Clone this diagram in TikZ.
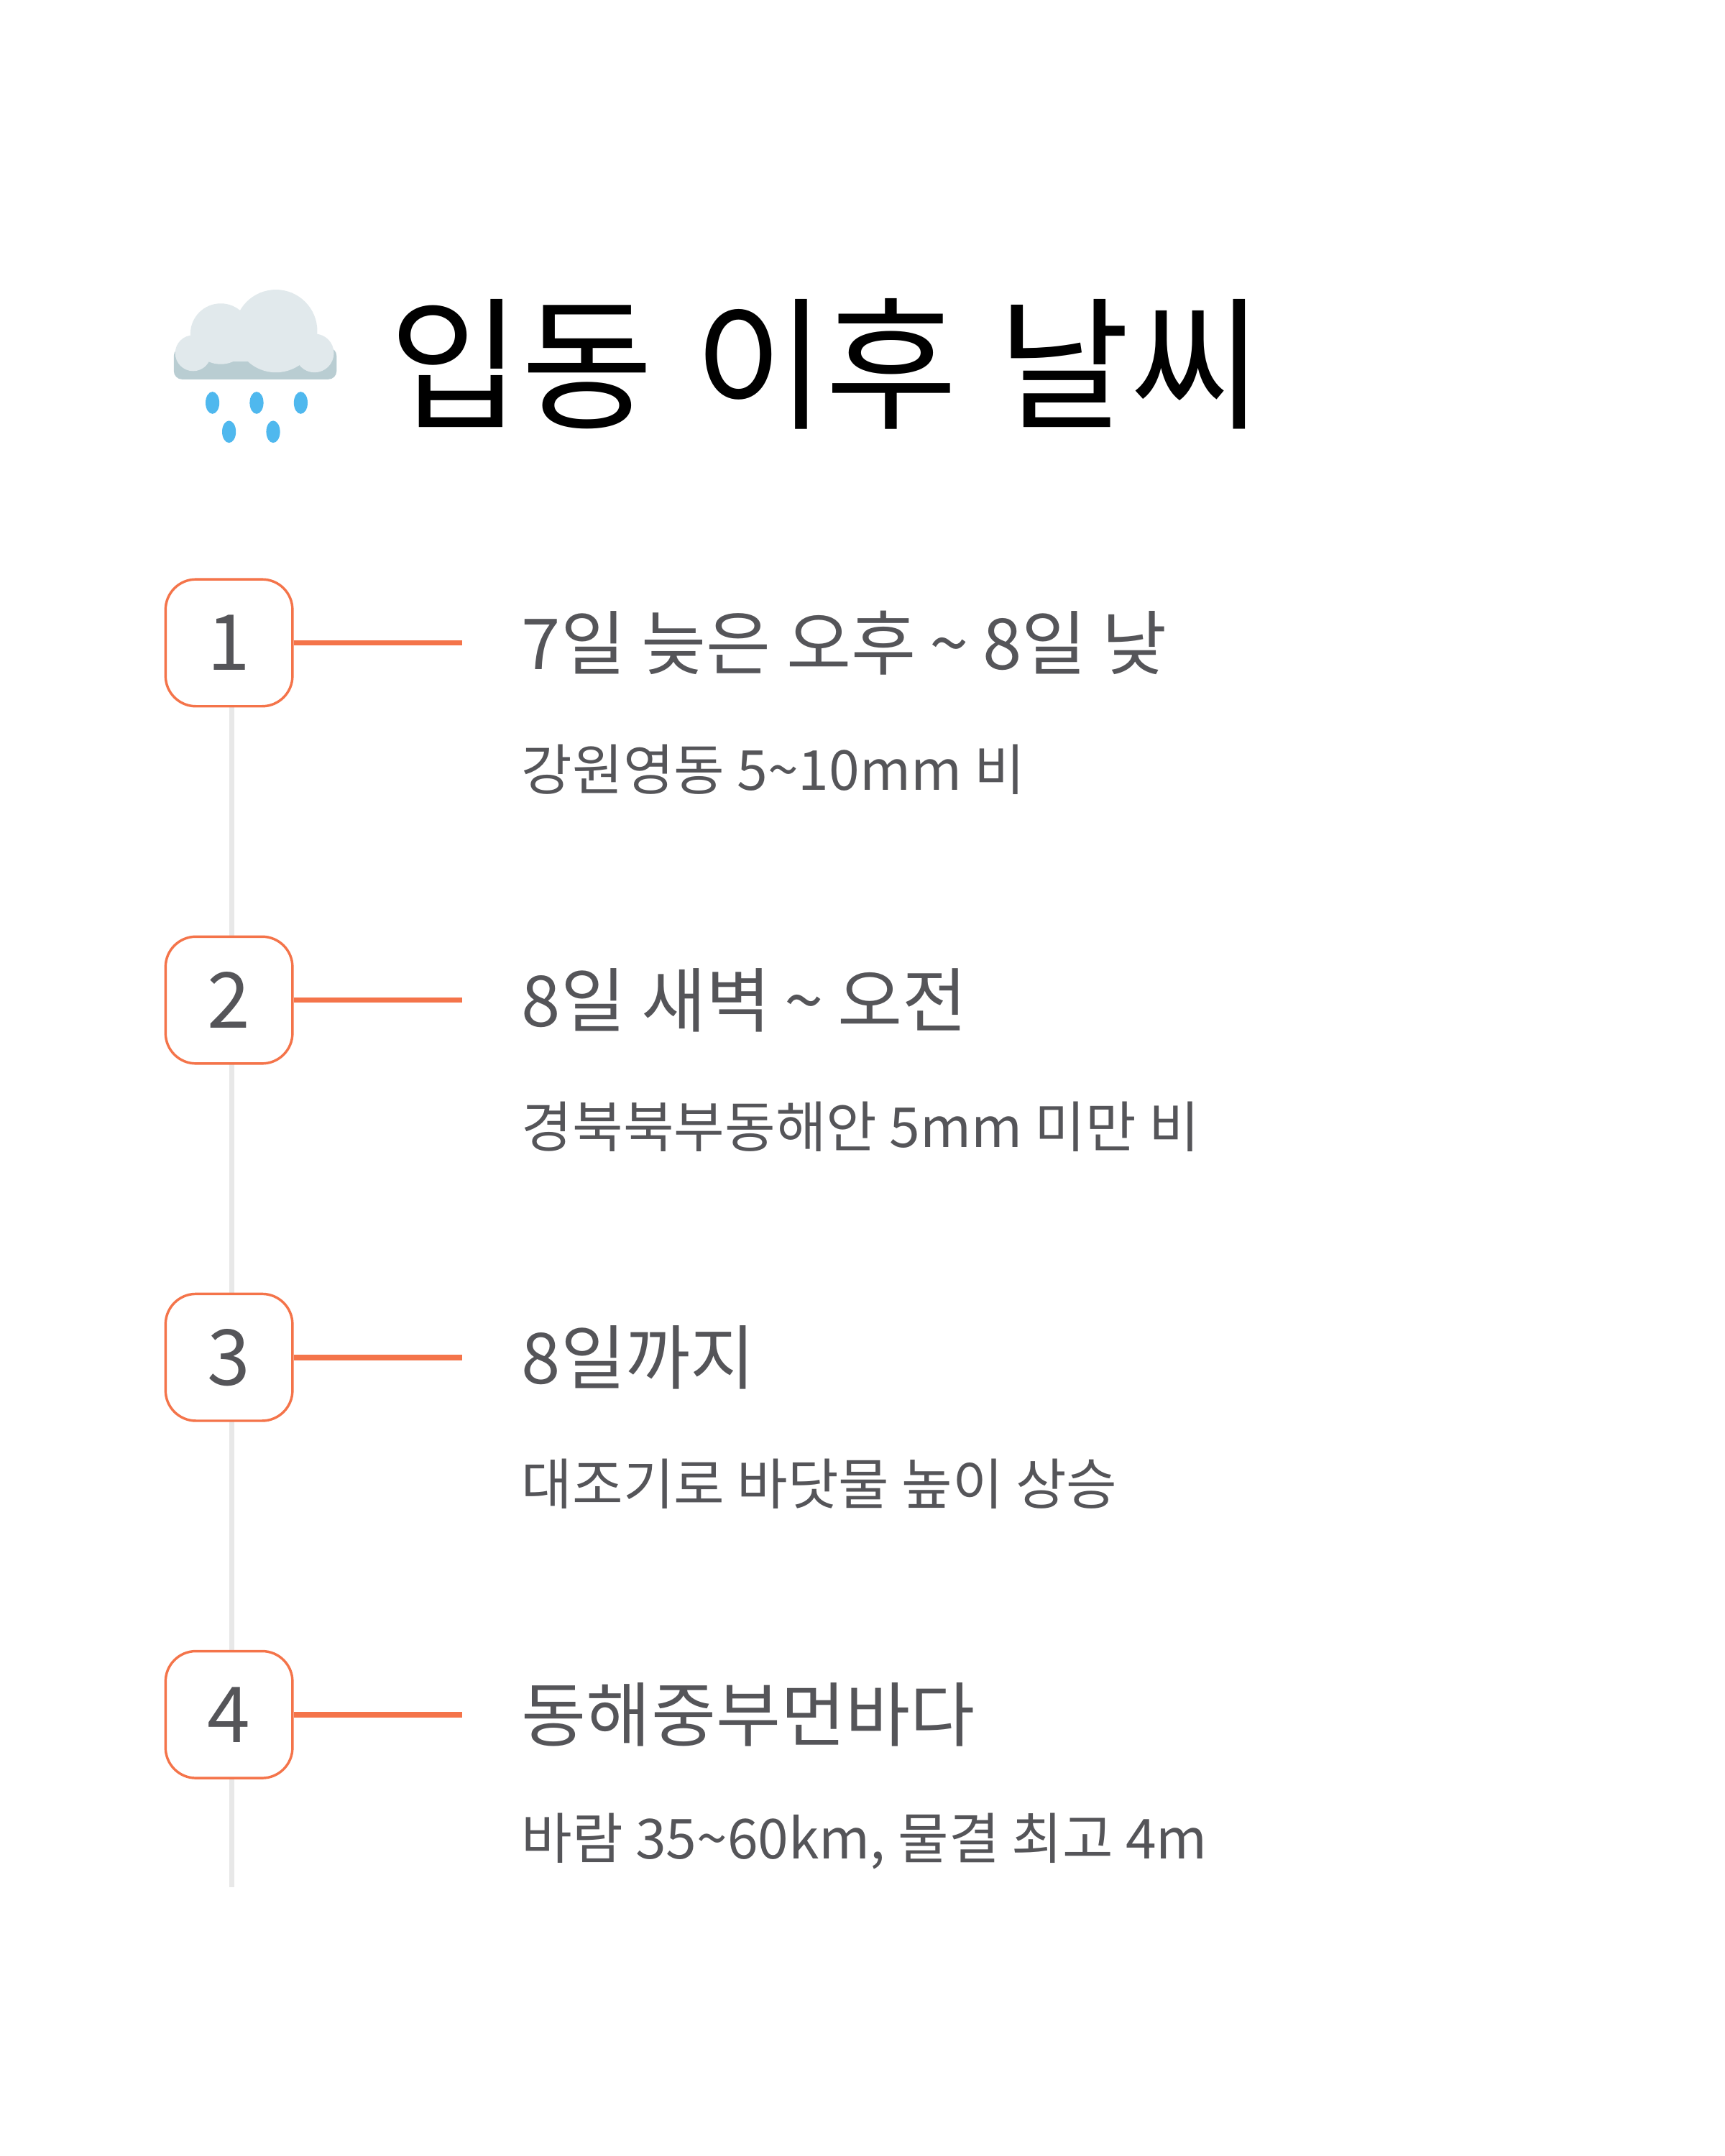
\documentclass[tikz,border=0pt]{standalone}
\usepackage{fontspec}
\setmainfont{Noto Sans CJK KR}
\definecolor{acc}{HTML}{F4744A}
\definecolor{txt}{HTML}{555559}
\definecolor{rail}{HTML}{E8E8E8}
\definecolor{cl}{HTML}{E1E9EC}
\definecolor{cld}{HTML}{B9CDD2}
\definecolor{drop}{HTML}{4FB8EE}
\newcommand{\tl}{\hspace{10pt}\textasciitilde\hspace{10pt}}
\tikzset{
 numbox/.style={draw=acc,line width=1.8pt,fill=white,rounded corners=22pt,minimum width=92pt,minimum height=92pt,inner sep=0pt,font=\fontsize{56}{60}\selectfont,text=txt},
 head/.style={anchor=west,inner sep=0pt,font=\fontsize{51}{56}\selectfont,text=txt},
 sub/.style={anchor=west,inner sep=0pt,font=\fontsize{40}{46}\selectfont,text=txt},
 conn/.style={draw=acc,line width=4pt},
}
\begin{document}
\begin{tikzpicture}[x=1pt,y=-1pt]
\useasboundingbox[fill=white] (0,0) rectangle (1250,1563);
% cloud
\fill[cld,rounded corners=6pt] (126,252) rectangle (244,275);
\fill[cl] (160,242) circle (22);
\fill[cl] (200,240) circle (30);
\fill[cl] (140,256) circle (13);
\fill[cl] (228,256) circle (14);
\fill[cl] (140,248) rectangle (228,262);
\foreach \px/\py in {154/292,186/292,218/292,166/313,198/313}{
 \fill[drop] (\px,\py) ellipse (5 and 8);
}
\node[anchor=west,inner sep=0pt,font=\fontsize{104}{110}\selectfont,text=black] (title) at (282,264) {입동\hspace{6pt} 이후\hspace{6pt} 날씨};
% rail
\coordinate (rt) at (168,512);
\coordinate (rb) at (168,1368);
\draw[rail,line width=4pt] (rt) -- (rb);
\foreach \i/\y/\h/\s in {1/466/{7일 늦은 오후\tl 8일 낮}/{강원영동 5\textasciitilde10mm 비},
 2/725/{8일 새벽\tl 오전}/{경북북부동해안 5mm 미만 비},
 3/984/{8일까지}/{대조기로 바닷물 높이 상승},
 4/1243/{동해중부먼바다}/{바람 35\textasciitilde60km, 물결 최고 4m}}{
 \node[numbox] (n\i) at (166,\y) {\i};
 \coordinate (e\i) at (335,\y);
 \draw[conn] (n\i.east) -- (e\i);
 \node[head] (h\i) at (378,\y) {\h};
 \node[sub] (s\i) at (378,\y+92) {\s};
}
\end{tikzpicture}
\end{document}
